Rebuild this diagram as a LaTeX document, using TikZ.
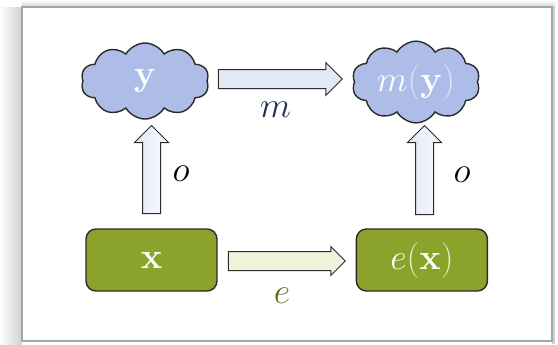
\documentclass[tikz,border=0pt]{standalone}
\usepackage{fix-cm}
\usepackage{amsmath,amssymb}
\usetikzlibrary{positioning, shapes.symbols, shapes.arrows, calc}
\definecolor{cCloud}{HTML}{AEBDE8}
\definecolor{cOlive}{HTML}{8BA22B}
\definecolor{cArrowBlue}{HTML}{E1E8F6}
\definecolor{cArrowLight}{HTML}{F8FAFE}
\definecolor{cArrowGreen}{HTML}{EFF3DA}
\definecolor{cNavy}{HTML}{1F2D5C}
\definecolor{cLeaf}{HTML}{5E721E}
\definecolor{cEdge}{HTML}{2B2B2B}
\definecolor{cFrame}{HTML}{A6A6A6}
\definecolor{cShade}{HTML}{D0D0D0}
\definecolor{cParenBlue}{HTML}{DCE3F5}
\definecolor{cParenGreen}{HTML}{E6EDC4}
\tikzset{
  cloudnode/.style={
    cloud, cloud puffs=10, cloud puff arc=120, aspect=1.7,
    draw=cEdge, fill=cCloud, line width=0.7pt,
    minimum width=64pt, minimum height=38pt, inner sep=0pt,
    text=white
  },
  datanode/.style={
    draw=cEdge, fill=cOlive, rounded corners=5pt, line width=0.7pt,
    minimum width=65.5pt, minimum height=31pt,
    text=white
  },
  blockarrow/.style={
    single arrow, draw=cEdge, line width=0.5pt, inner xsep=0pt,
    single arrow tip angle=90, fill=#1
  },
  maplabel/.style={
    text=#1
  },
}
\begin{document}
\begin{tikzpicture}[x=0.5pt, y=-0.5pt, font=\fontsize{18}{20}\selectfont]
\useasboundingbox (0,0) rectangle (558,344);

% frame with soft shadow
\fill[left color=white, right color=cShade] (0,7) rectangle (22,344);
\fill[top color=white, bottom color=cShade] (22,0) rectangle (555,7);
\fill[cShade] (552,7) rectangle (555,344);
\draw[cFrame, line width=1pt, fill=white] (22,7) rectangle (552,341);

% bottom row: data boxes
\node[datanode] (x) at (151.5,260) {$\mathbf{x}$};
\node[datanode, right=69pt of x] (ex)
  {$e{\color{cParenGreen}(}\mathbf{x}{\color{cParenGreen})}$};

% top row: clouds
\node[cloudnode] (y) at (145,81) {$\mathbf{y}$};
\node[cloudnode] (my) at (416,82)
  {$m{\color{cParenBlue}(}\mathbf{y}{\color{cParenBlue})}$};

% block arrows between them
\node[blockarrow=cArrowBlue, minimum height=62pt, inner ysep=4.5pt,
      single arrow head extend=3.5pt] (marrow) at (275.5,79) {};
\node[blockarrow=cArrowGreen, minimum height=58.5pt, inner ysep=4.5pt,
      single arrow head extend=2.5pt] (earrow) at (282,261) {};
\node[blockarrow=white, left color=cArrowBlue, right color=cArrowLight,
      rotate=90, minimum height=44pt, inner ysep=4.25pt,
      single arrow head extend=4pt] (oleft) at (151.5,174) {};
\node[blockarrow=white, left color=cArrowBlue, right color=cArrowLight,
      rotate=90, minimum height=44.5pt, inner ysep=4.25pt,
      single arrow head extend=4pt] (oright) at (424.5,174.5) {};

% arrow labels
\node[maplabel=cNavy, below=3pt of marrow] (mlab) {$m$};
\node[maplabel=cLeaf, below=5pt of earrow] (elab) {$e$};
\node[maplabel=black, right=7pt of oleft.center, yshift=0pt] (olab1) {$o$};
\node[maplabel=black, right=11pt of oright.center, yshift=0pt] (olab2) {$o$};

\end{tikzpicture}
\end{document}
